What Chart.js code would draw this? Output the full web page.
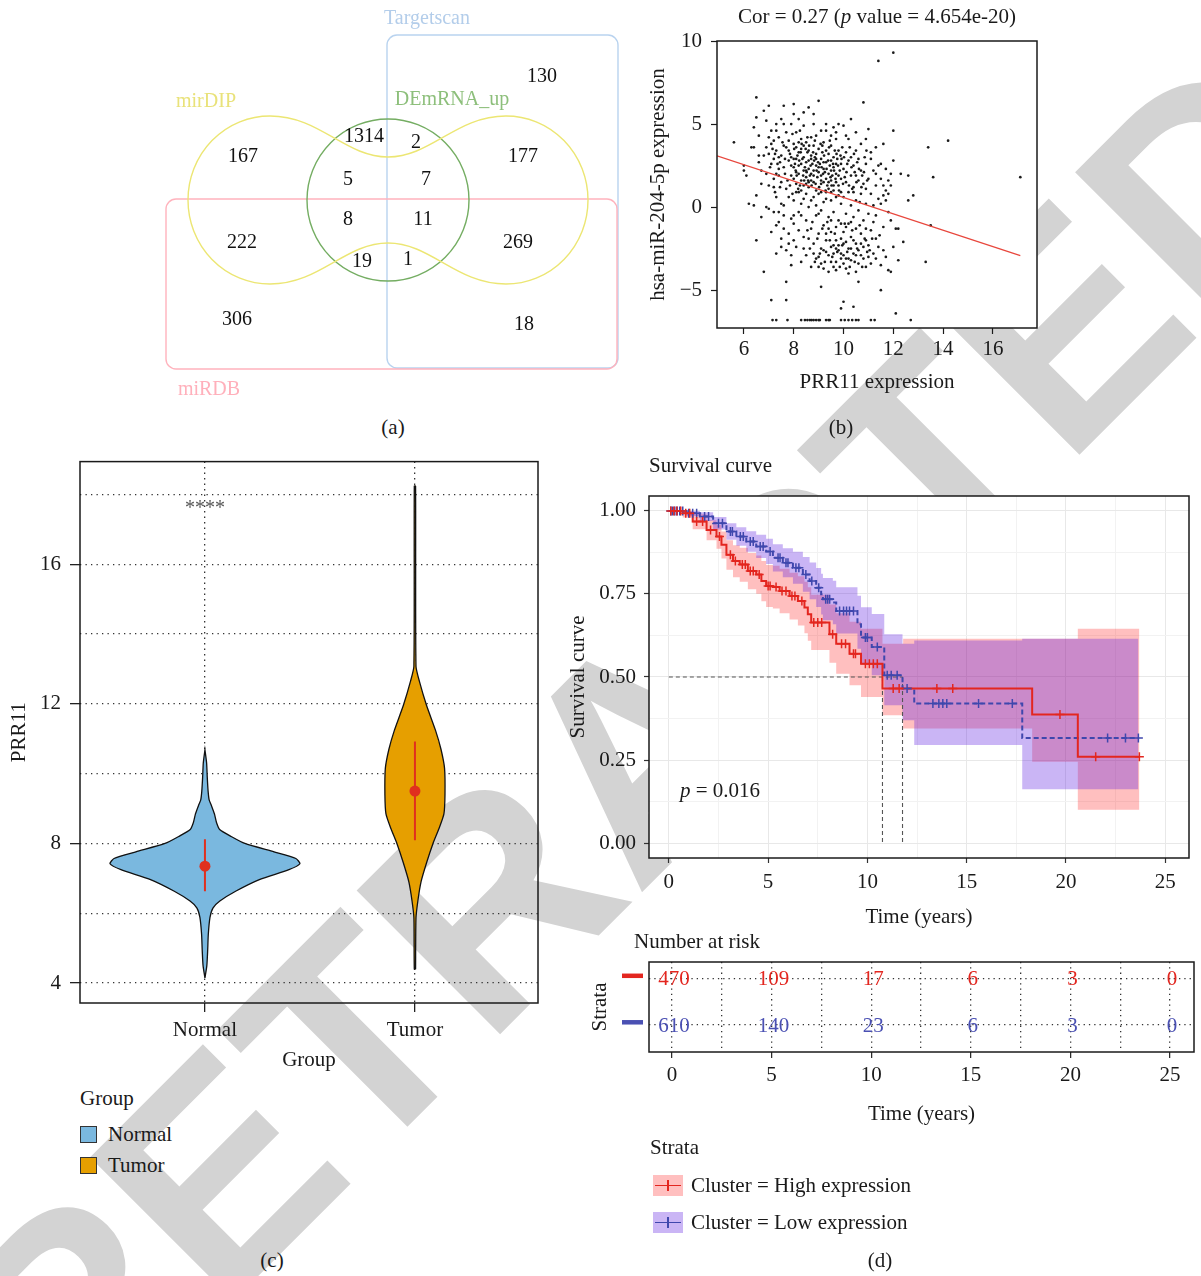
<!DOCTYPE html>
<html>
<head>
<meta charset="utf-8">
<script src="https://cdn.jsdelivr.net/npm/chart.js"></script>
<style>
  body { margin: 0; background: #fff; }
  #page { position: relative; width: 1201px; height: 1276px; overflow: hidden;
          font-family: 'Liberation Serif', 'Times New Roman', serif; color: #1a1a1a; }
  .wm { position: absolute; left: 640px; top: 750px; z-index: 0; white-space: nowrap; line-height: 1;
        transform: translate(-50%, -50%) rotate(-45deg);
        font: bold 295px 'Liberation Sans', Arial, sans-serif; color: #d3d3d3; }
  canvas { position: absolute; z-index: 1; }
  .t { position: absolute; z-index: 2; font-size: 21px; line-height: 1; white-space: nowrap; }
  .sw { position: absolute; z-index: 2; }
</style>
</head>
<body>
<div id="page"><div class="wm">RETRACTED</div></div>
<script>
// ---------- (a) venn ----------
const vennSets = ['Targetscan', 'mirDIP', 'DEmRNA_up', 'miRDB'];
const vennCounts = [130, 167, 1314, 2, 177, 5, 7, 8, 11, 222, 269, 19, 1, 306, 18];

// ---------- (b) scatter ----------
const prrMir = [
  [5.6,3.9],[6.0,2.5],[6.0,2.2],[6.1,1.9],[6.2,0.2],[6.3,3.6],[6.4,3.6],[6.4,4.8],[6.5,5.4],[6.5,6.6],
  [6.5,-2.0],[6.5,0.7],[6.4,0.1],[6.6,2.7],[6.6,4.3],[6.7,1.4],[6.7,-0.6],[6.8,5.8],[6.8,3.1],[6.8,-3.9],
  [6.9,0.0],[6.9,2.0],[6.9,5.2],[7.0,6.1],[7.0,4.2],[7.0,1.3],[7.0,-0.1],[6.7,2.2],[6.6,3.1],[6.9,3.6],
  [7.1,3.8],[7.1,2.6],[7.1,-1.5],[7.1,-5.6],[7.2,4.0],[7.2,1.2],[7.2,-0.3],[7.2,2.9],[7.3,3.4],[7.3,0.6],
  [7.3,-2.8],[7.3,4.6],[7.4,1.9],[7.4,-0.9],[7.4,3.0],[7.4,2.3],[7.5,5.3],[7.5,1.5],[7.5,-1.9],[7.5,0.2],
  [7.6,3.7],[7.6,2.4],[7.6,-1.3],[7.6,6.1],[7.7,4.5],[7.7,1.1],[7.7,-2.6],[7.7,-4.5],[7.7,-5.6],[7.8,2.8],
  [7.8,0.6],[7.8,-2.2],[7.8,3.4],[7.9,1.9],[7.9,5.0],[7.9,-0.7],[7.9,-3.5],[7.6,0.1],[7.3,2.0],[7.5,3.1],
  [7.8,4.0],[7.4,4.2],[7.2,1.7],[7.9,2.5],[7.7,3.6],
  [8.0,6.2],[8.0,2.4],[8.0,0.4],[8.0,-1.0],[8.0,3.8],[8.1,2.9],[8.1,1.4],[8.1,-2.4],[8.1,4.5],[8.2,3.3],
  [8.2,2.0],[8.2,0.9],[8.2,-0.3],[8.2,5.3],[8.3,2.6],[8.3,1.6],[8.3,-3.3],[8.3,4.1],[8.3,3.5],[8.4,2.2],
  [8.4,0.5],[8.4,-1.8],[8.4,3.0],[8.4,4.9],[8.5,1.8],[8.5,2.7],[8.5,-0.8],[8.5,3.9],[8.5,-2.9],[8.6,6.0],
  [8.6,2.3],[8.6,1.2],[8.6,0.0],[8.6,3.4],[8.7,2.0],[8.7,4.2],[8.7,-1.3],[8.7,2.9],[8.7,-3.6],[8.8,1.5],
  [8.8,3.7],[8.8,0.6],[8.8,-2.2],[8.8,5.0],[8.9,2.5],[8.9,1.0],[8.9,3.2],[8.9,-0.5],[8.9,-3.1],[8.0,1.7],
  [8.2,3.9],[8.4,1.3],[8.6,2.8],[8.8,2.2],[8.3,-0.5],[8.5,0.8],[8.7,1.6],[8.9,4.3],[8.1,2.1],[8.6,-1.9],
  [9.0,6.4],[9.0,2.1],[9.0,0.8],[9.0,-1.6],[9.0,-3.0],[9.0,3.5],[9.1,1.4],[9.1,2.9],[9.1,-0.2],[9.1,-2.5],
  [9.1,-4.8],[9.1,4.6],[9.2,2.3],[9.2,0.3],[9.2,-1.1],[9.2,3.9],[9.2,-3.7],[9.3,1.7],[9.3,2.7],[9.3,-2.0],
  [9.3,0.9],[9.3,5.0],[9.4,3.2],[9.4,1.1],[9.4,-0.6],[9.4,-2.9],[9.4,2.0],[9.5,3.7],[9.5,0.4],[9.5,-1.5],
  [9.5,-3.3],[9.5,1.6],[9.5,4.3],[9.6,2.4],[9.6,-0.3],[9.6,-2.3],[9.6,1.0],[9.6,3.0],[9.7,0.6],[9.7,-1.2],
  [9.7,-3.8],[9.7,2.0],[9.7,4.1],[9.8,1.3],[9.8,-2.6],[9.8,3.4],[9.8,-0.8],[9.8,5.0],[9.9,0.2],[9.9,2.6],
  [9.9,-1.9],[9.9,-3.1],[9.9,1.7],[9.2,1.5],[9.4,-1.3],[9.6,-3.6],[9.8,0.7],[9.0,-0.4],[9.3,-2.7],[9.5,2.8],
  [9.7,-2.0],[9.9,-1.0],[9.1,0.9],[9.6,4.8],
  [10.0,4.9],[10.0,2.3],[10.0,0.6],[10.0,-1.5],[10.0,-2.9],[10.0,-5.7],[10.1,3.3],[10.1,1.5],[10.1,-0.4],[10.1,-2.1],
  [10.1,-3.7],[10.2,2.8],[10.2,0.9],[10.2,-1.0],[10.2,-2.5],[10.2,4.1],[10.3,1.9],[10.3,0.1],[10.3,-1.8],[10.3,-3.2],
  [10.3,5.3],[10.4,2.5],[10.4,-0.6],[10.4,-2.8],[10.4,-6.0],[10.4,1.2],[10.5,3.4],[10.5,0.4],[10.5,-1.3],[10.5,-2.2],
  [10.5,-3.9],[10.6,1.6],[10.6,-0.2],[10.6,-2.6],[10.6,-4.5],[10.6,2.9],[10.7,0.8],[10.7,-1.6],[10.7,2.2],[10.7,3.8],
  [10.8,1.4],[10.8,-0.8],[10.8,-3.1],[10.8,6.3],[10.9,2.6],[10.9,0.2],[10.9,-2.0],[10.9,-3.6],[10.1,-1.2],[10.3,3.0],
  [10.5,1.9],[10.7,-2.9],[10.9,1.1],[10.0,-3.4],[10.2,-4.0],[10.4,0.9],
  [11.0,4.7],[11.0,1.7],[11.0,-0.4],[11.0,-2.3],[11.1,2.9],[11.1,0.8],[11.1,-1.4],[11.1,-3.4],[11.2,2.2],[11.2,-0.9],
  [11.2,-2.8],[11.3,1.3],[11.3,3.6],[11.3,-1.9],[11.4,8.8],[11.4,0.5],[11.4,-2.4],[11.4,2.5],[11.5,-5.0],[11.5,1.7],
  [11.5,-3.5],[11.6,0.7],[11.6,-1.2],[11.6,3.8],[11.7,1.0],[11.7,-3.0],[11.7,0.4],[11.8,-0.3],[11.8,-3.8],[11.9,1.3],
  [11.9,-3.9],[11.9,2.0],[12.0,9.3],[12.0,4.6],[12.0,2.8],[12.0,-2.4],[11.2,0.1],[11.5,2.6],[11.8,1.6],
  [12.1,-1.3],[12.1,-6.4],[12.2,-1.3],[12.2,-3.2],[12.3,2.0],[12.4,-2.1],[12.6,1.9],[12.6,0.4],[12.7,-6.8],[12.8,0.7],
  [13.3,-3.3],[13.4,3.6],[13.5,-1.1],[13.6,1.8],[14.2,4.0],[17.1,1.8],
  [7.15,-6.8],[7.3,-6.8],[7.75,-6.8],[8.3,-6.8],[8.45,-6.8],[8.55,-6.8],[8.65,-6.8],[8.72,-6.8],[8.8,-6.8],[8.9,-6.8],
  [9.0,-6.8],[9.05,-6.8],[9.3,-6.8],[9.4,-6.8],[9.45,-6.8],[9.9,-6.8],[10.05,-6.8],[10.2,-6.8],[10.35,-6.8],[10.5,-6.8],
  [10.6,-6.8],[11.1,-6.8],[11.25,-6.8],[9.9,-6.1],
  [8.05,2.6],[8.15,3.1],[8.25,1.3],[8.35,2.9],[8.45,2.4],[8.55,3.3],[8.65,1.9],[8.75,2.6],[8.85,3.0],[8.95,1.8],
  [9.05,2.6],[9.15,3.3],[9.25,2.1],[9.35,1.3],[9.45,2.5],[9.55,1.9],[9.65,3.4],[9.75,2.9],[9.85,2.2],[9.95,3.6],
  [8.1,0.9],[8.3,0.2],[8.5,1.4],[8.7,0.4],[8.9,0.1],[9.1,1.9],[9.3,0.5],[9.5,0.9],[9.7,1.5],[9.9,0.9],
  [7.85,1.3],[7.65,2.0],[7.45,2.7],[7.25,3.2],[7.95,4.4],[8.25,4.6],[8.55,4.2],[8.85,4.0],[9.15,3.7],[9.45,4.0],
  [10.05,1.8],[10.15,2.6],[10.25,3.6],[10.35,1.1],[10.45,2.1],[10.55,2.7],[10.65,0.3],[10.75,1.9],[10.85,3.0],[10.95,1.6],
  [9.8,-2.3],[10.0,-2.2],[10.2,-3.1],[10.4,-2.0],[10.6,-3.4],[9.6,-2.8],[9.4,-3.9],[9.2,-2.6],[9.0,-3.6],[8.8,-2.8],
  [10.8,-2.4],[11.0,-3.0],[9.7,-3.3],[9.5,-2.4],[10.3,-2.5],
  [7.05,2.4],[7.15,3.5],[7.25,0.9],[7.35,2.6],[7.45,1.2],[7.55,3.9],[7.65,2.9],[7.75,1.6],[7.85,3.2],[7.95,0.8],
  [8.02,3.5],[8.12,1.9],[8.22,2.8],[8.32,3.8],[8.42,1.6],[8.52,2.1],[8.62,3.7],[8.72,1.3],[8.82,2.8],[8.92,2.2],
  [9.02,1.2],[9.12,2.4],[9.22,3.1],[9.32,2.3],[9.42,3.6],[9.52,1.3],[9.62,2.2],[9.72,3.2],[9.82,1.0],[9.92,2.9],
  [10.02,3.0],[10.12,2.1],[10.22,1.3],[10.32,2.4],[10.42,3.2],[10.52,1.5],[10.62,2.3],[10.72,1.2],[10.82,2.1],[10.92,3.4],
  [8.08,2.2],[8.18,1.1],[8.28,3.3],[8.38,1.9],[8.48,3.5],[8.58,1.6],[8.68,2.5],[8.78,3.3],[8.88,1.4],[8.98,2.7],
  [9.08,3.8],[9.18,2.0],[9.28,1.0],[9.38,2.8],[9.48,1.8],[9.58,2.6],[9.68,1.7],[9.78,2.5],[9.88,3.1],[9.98,1.4],
  [7.9,3.0],[8.0,2.9],[8.1,3.6],[8.2,2.5],[8.3,1.0],[8.4,3.7],[8.5,2.2],[8.6,1.5],[8.7,3.1],[8.8,1.9],
  [8.9,2.9],[9.0,2.4],[9.1,1.6],[9.2,2.7],[9.3,3.4],[9.4,1.5],[9.5,2.2],[9.6,1.3],[9.7,2.6],[9.8,1.9],
  [8.55,-1.4],[8.65,-2.5],[8.75,-0.9],[8.85,-3.3],[8.95,-1.9],[9.05,-2.8],[9.15,-1.3],[9.25,-3.3],[9.35,-0.9],[9.45,-2.0],
  [9.55,-3.0],[9.65,-1.6],[9.75,-2.7],[9.85,-3.6],[9.95,-2.3],[10.05,-1.0],[10.15,-2.7],[10.25,-3.6],[10.35,-1.4],[10.45,-3.3],
  [10.55,-2.5],[10.65,-1.1],[10.75,-3.6],[10.85,-1.9],[10.95,-2.7],[9.1,-3.4],[9.3,-1.6],[9.5,-0.8],[9.7,-2.5],[9.9,-2.8],
  [10.1,-3.1],[10.3,-0.9],[10.5,-2.9],[10.7,-2.2],[10.9,-1.3],[11.05,-2.6],[11.15,-1.9],[11.3,-3.1],[11.45,-1.7],[11.6,-2.6],
  [7.0,3.2],[7.1,4.6],[7.3,5.0],[7.6,5.0],[8.0,5.6],[8.4,5.7],[8.8,5.6],[9.3,4.6],[9.7,4.5],[10.1,4.3],
  [10.5,4.5],[10.9,4.1],[11.3,2.0],[11.5,0.2],[11.7,2.3],[11.1,3.3],[11.3,-0.5],[11.6,1.3],[11.8,0.8],[11.9,-0.8],
  [7.4,-0.3],[7.6,-0.5],[7.8,-1.6],[8.0,-2.0],[8.2,-1.4],[8.4,-2.5],[8.0,-0.5],[7.3,-1.1],[7.5,-2.4],[7.9,-2.9]
];
const fitX = [4.92, 17.1];
const fitY = [3.09, -2.92];
const scatterXTicks = [6, 8, 10, 12, 14, 16];
const scatterYTicks = [-5, 0, 5, 10];

// ---------- (c) violin ----------
const groups = ['Normal', 'Tumor'];
const normalY = [4.15, 4.5, 4.94, 5.4, 5.88, 6.15, 6.35, 6.63, 6.97, 7.25, 7.42, 7.57, 7.76, 8.0, 8.2, 8.4, 8.6, 8.85, 9.1, 9.25, 9.5, 9.9, 10.3, 10.68];
const normalDens = [0, 0.009, 0.013, 0.016, 0.024, 0.038, 0.071, 0.146, 0.262, 0.40, 0.452, 0.433, 0.329, 0.19, 0.125, 0.07, 0.055, 0.045, 0.03, 0.02, 0.015, 0.011, 0.008, 0];
const tumorY = [4.4, 5.87, 6.36, 6.9, 7.44, 8.0, 8.42, 8.85, 9.39, 10.15, 10.7, 11.24, 11.96, 12.65, 13.08, 18.24];
const tumorDens = [0.003, 0.005, 0.014, 0.029, 0.055, 0.086, 0.114, 0.138, 0.143, 0.141, 0.124, 0.098, 0.055, 0.021, 0.005, 0.003];
const groupMedian = [7.35, 9.5];
const groupQ1 = [6.63, 8.09];
const groupQ3 = [8.12, 10.92];
const violinGrid = [4, 6, 8, 10, 12, 14, 16, 18];
const violinYTicks = [4, 8, 12, 16];

// ---------- (d) survival ----------
const highT  = [0, 0.7, 1.2, 1.9, 2.4, 2.65, 2.9, 3.23, 3.57, 3.98, 4.4, 4.66, 4.9, 5.24, 5.58, 6.08, 6.5, 6.83, 7.0, 7.17, 8.09, 8.43, 9.1, 9.68, 10.76, 11.8, 18.3, 20.6, 23.7];
const highS  = [1.0, 0.993, 0.968, 0.943, 0.923, 0.898, 0.868, 0.849, 0.839, 0.819, 0.809, 0.789, 0.774, 0.771, 0.759, 0.744, 0.729, 0.709, 0.689, 0.664, 0.629, 0.600, 0.570, 0.540, 0.465, 0.465, 0.387, 0.260, 0.260];
const highLo = [1.0, 0.980, 0.945, 0.912, 0.886, 0.857, 0.823, 0.800, 0.787, 0.764, 0.751, 0.728, 0.711, 0.706, 0.692, 0.673, 0.655, 0.632, 0.609, 0.581, 0.543, 0.510, 0.475, 0.440, 0.385, 0.345, 0.245, 0.100, 0.100];
const highHi = [1.0, 1.0, 0.990, 0.972, 0.958, 0.938, 0.912, 0.897, 0.889, 0.873, 0.866, 0.849, 0.837, 0.835, 0.826, 0.814, 0.803, 0.787, 0.770, 0.748, 0.718, 0.692, 0.666, 0.645, 0.600, 0.615, 0.615, 0.645, 0.645];
const lowT  = [0, 0.89, 1.56, 2.23, 2.9, 3.4, 3.9, 4.4, 4.9, 5.24, 5.74, 6.25, 6.75, 7.09, 7.42, 7.67, 7.76, 8.26, 8.43, 9.5, 9.68, 10.22, 10.85, 11.77, 12.36, 17.8, 23.65];
const lowS  = [1.0, 0.993, 0.983, 0.963, 0.938, 0.923, 0.908, 0.893, 0.878, 0.859, 0.844, 0.829, 0.809, 0.789, 0.769, 0.749, 0.734, 0.724, 0.699, 0.659, 0.619, 0.590, 0.505, 0.465, 0.420, 0.316, 0.316];
const lowLo = [1.0, 0.985, 0.970, 0.944, 0.913, 0.895, 0.877, 0.858, 0.840, 0.818, 0.800, 0.781, 0.757, 0.734, 0.711, 0.688, 0.671, 0.659, 0.631, 0.585, 0.540, 0.505, 0.415, 0.370, 0.295, 0.162, 0.162];
const lowHi = [1.0, 1.0, 0.996, 0.982, 0.963, 0.951, 0.939, 0.928, 0.916, 0.900, 0.888, 0.877, 0.861, 0.845, 0.828, 0.811, 0.798, 0.790, 0.770, 0.745, 0.710, 0.690, 0.629, 0.600, 0.610, 0.615, 0.615];
const highCensor = [0.1, 0.25, 0.4, 0.6, 0.85, 1.05, 1.4, 1.7, 2.1, 2.55, 3.1, 3.35, 3.7, 3.85, 4.1, 4.25, 4.55, 5.0, 5.1, 5.4, 5.7, 5.9, 6.2, 6.35, 6.7, 7.3, 7.5, 7.7, 8.25, 8.7, 8.9, 9.3, 9.4, 9.9, 10.1, 10.3, 10.5, 11.3, 11.6, 13.5, 14.3, 19.7, 21.5, 23.7];
const lowCensor = [0.1, 0.18, 0.3, 0.42, 0.55, 0.7, 1.0, 1.2, 1.4, 1.8, 2.0, 2.5, 2.7, 3.1, 3.2, 3.6, 3.75, 4.1, 4.25, 4.6, 4.75, 5.1, 5.5, 5.6, 5.9, 6.0, 6.4, 6.55, 6.9, 7.2, 7.55, 7.9, 8.0, 8.1, 8.6, 8.8, 8.95, 9.1, 9.3, 9.9, 10.0, 10.5, 11.0, 11.2, 11.5, 12.0, 13.3, 13.6, 13.8, 14.0, 15.6, 17.3, 22.1, 23.0, 23.65];
const medianSurv = [10.76, 11.77];
const survXTicks = [0, 5, 10, 15, 20, 25];
const survYTicks = [0, 0.25, 0.5, 0.75, 1];
const riskTimes = [0, 5, 10, 15, 20, 25];
const riskHigh = [470, 109, 17, 6, 3, 0];
const riskLow = [610, 140, 23, 6, 3, 0];

// ---------- setup ----------
const SERIF = "'Liberation Serif', 'Times New Roman', serif";
Chart.defaults.font.family = SERIF;
Chart.defaults.font.size = 21;
Chart.defaults.color = '#1a1a1a';
Chart.defaults.animation = false;
Chart.defaults.events = [];
Chart.defaults.plugins.legend.display = false;
Chart.defaults.plugins.tooltip.enabled = false;

const RED = '#e3261f', BLUE = '#3f47ad';
const RED_BAND = 'rgba(255,20,20,0.27)', BLUE_BAND = 'rgba(95,30,225,0.33)';
const page = document.getElementById('page');

function text(html, x, y, align, style) {
  const d = document.createElement('div');
  d.className = 't';
  d.innerHTML = html;
  d.style.left = x + 'px';
  d.style.top = y + 'px';
  d.style.transform = align === 'left' ? 'translate(0,-50%)' : 'translate(-50%,-50%)';
  if (style) d.style.cssText += style;
  page.appendChild(d);
}
function box(x, y, w, h, style) {
  const d = document.createElement('div');
  d.className = 'sw';
  d.style.cssText += `left:${x}px;top:${y}px;width:${w}px;height:${h}px;` + style;
  page.appendChild(d);
  return d;
}
function canvasAt(x, y, w, h) {
  const c = document.createElement('canvas');
  c.width = w; c.height = h;
  c.style.left = x + 'px'; c.style.top = y + 'px';
  page.appendChild(c);
  return c;
}
const ticksAt = vals => s => { s.ticks = vals.map(v => ({ value: v })); };
const has = (arr, v) => arr.some(a => Math.abs(a - v) < 1e-6);
const minus = v => (v < 0 ? '\u2212' + Math.abs(v) : '' + v);

function panel(bg, lw) {
  return {
    id: 'panel',
    beforeDraw(c) {
      if (!bg) return;
      const a = c.chartArea, ctx = c.ctx;
      ctx.save(); ctx.fillStyle = bg;
      ctx.fillRect(a.left, a.top, a.right - a.left, a.bottom - a.top);
      ctx.restore();
    },
    afterDraw(c) {
      const a = c.chartArea, ctx = c.ctx;
      ctx.save(); ctx.strokeStyle = '#1a1a1a'; ctx.lineWidth = lw;
      ctx.strokeRect(a.left, a.top, a.right - a.left, a.bottom - a.top);
      ctx.restore();
    }
  };
}

// ---------- (a) venn chart ----------
const vennPos = [[382,77],[83,157],[204,137],[256,143],[363,157],[188,180],[266,180],[188,220],[263,220],
                 [82,243],[358,243],[202,262],[248,260],[77,320],[364,325]];
const vennShapes = {
  id: 'vennShapes',
  beforeDatasetsDraw(c) {
    const { ctx } = c, X = c.scales.x, Y = c.scales.y;
    const px = v => X.getPixelForValue(v), py = v => Y.getPixelForValue(v);
    ctx.save();
    ctx.lineWidth = 1.4;
    const rr = (x0, y0, x1, y1, col) => {
      ctx.strokeStyle = col; ctx.beginPath();
      ctx.roundRect(px(x0), py(y0), px(x1) - px(x0), py(y1) - py(y0), 10); ctx.stroke();
    };
    rr(227, 35, 458, 368, '#b9d3ef');
    rr(6, 199, 457, 369, '#ffb3bd');
    // DEmRNA_up circle
    ctx.strokeStyle = '#74ad62';
    ctx.beginPath(); ctx.arc(px(228), py(200), px(309) - px(228), 0, Math.PI * 2); ctx.stroke();
    // mirDIP two-lobed shape
    ctx.strokeStyle = '#ece673';
    ctx.beginPath();
    ctx.moveTo(px(228), py(157));
    ctx.bezierCurveTo(px(185), py(157), px(160), py(116), px(110), py(116));
    ctx.ellipse(px(110), py(200), px(82) - px(0), py(84) - py(0), 0, -Math.PI / 2, Math.PI / 2, true);
    ctx.bezierCurveTo(px(160), py(284), px(185), py(243), px(228), py(243));
    ctx.bezierCurveTo(px(271), py(243), px(296), py(284), px(346), py(284));
    ctx.ellipse(px(346), py(200), px(82) - px(0), py(84) - py(0), 0, Math.PI / 2, -Math.PI / 2, true);
    ctx.bezierCurveTo(px(296), py(116), px(271), py(157), px(228), py(157));
    ctx.stroke();
    ctx.restore();
  },
  afterDatasetsDraw(c) {
    const ctx = c.ctx, meta = c.getDatasetMeta(0);
    ctx.save();
    ctx.font = '20px ' + SERIF; ctx.fillStyle = '#111';
    ctx.textAlign = 'center'; ctx.textBaseline = 'middle';
    meta.data.forEach((el, i) => ctx.fillText(vennCounts[i], el.x, el.y));
    ctx.restore();
  }
};
new Chart(canvasAt(160, 0, 470, 410), {
  type: 'scatter',
  data: { datasets: [{ data: vennPos.map(p => ({ x: p[0], y: p[1] })), pointRadius: 0 }] },
  options: {
    responsive: false, layout: { padding: 0 },
    scales: { x: { display: false, min: 0, max: 470 }, y: { display: false, min: 0, max: 410, reverse: true } }
  },
  plugins: [vennShapes]
});
text(vennSets[0], 427, 17, 'center', 'color:#b3cdea;font-size:20px;');
text(vennSets[1], 206, 100, 'center', 'color:#e9e27a;font-size:20px;');
text(vennSets[2], 452, 98, 'center', 'color:#8dbf7b;font-size:20px;');
text(vennSets[3], 209, 388, 'center', 'color:#ffb0bb;font-size:20px;');

// ---------- (b) scatter chart ----------
new Chart(canvasAt(640, 0, 420, 400), {
  type: 'scatter',
  data: {
    datasets: [
      { data: fitX.map((x, i) => ({ x, y: fitY[i] })), showLine: true, borderColor: '#e8473d',
        borderWidth: 1.3, pointRadius: 0, order: 0 },
      { data: prrMir.map(p => ({ x: p[0], y: p[1] })), pointRadius: 1.35, pointBorderWidth: 0,
        backgroundColor: '#1a1a1a', order: 1 }
    ]
  },
  options: {
    responsive: false,
    layout: { padding: { left: 0, top: 41, right: 23, bottom: 0 } },
    scales: {
      x: {
        type: 'linear', min: 4.92, max: 17.77,
        afterFit: s => { s.height = 72; }, afterBuildTicks: ticksAt(scatterXTicks),
        grid: { drawOnChartArea: false, tickLength: 6, tickColor: '#1a1a1a', tickWidth: 1.2 },
        border: { display: false },
        ticks: { padding: 3, maxRotation: 0, autoSkip: false },
        title: { display: true, text: 'PRR11 expression', padding: { top: 0, bottom: 5 } }
      },
      y: {
        min: -7.28, max: 10,
        afterFit: s => { s.width = 77; }, afterBuildTicks: ticksAt(scatterYTicks),
        grid: { drawOnChartArea: false, tickLength: 6, tickColor: '#1a1a1a', tickWidth: 1.2 },
        border: { display: false },
        ticks: { padding: 9, callback: minus },
        title: { display: true, text: 'hsa-miR-204-5p expression', padding: { top: 6, bottom: 0 } }
      }
    }
  },
  plugins: [panel('#ffffff', 1.5)]
});
text('Cor = 0.27 (<i>p</i> value = 4.654e-20)', 877, 16, 'center');

// ---------- (c) violin chart ----------
function outline(center, ys, ws) {
  const pts = [];
  for (let i = 0; i < ys.length; i++) pts.push({ x: center + ws[i], y: ys[i] });
  for (let i = ys.length - 1; i >= 0; i--) pts.push({ x: center - ws[i], y: ys[i] });
  pts.push({ x: center + ws[0], y: ys[0] });
  return pts;
}
const violinStars = {
  id: 'stars',
  afterDatasetsDraw(c) {
    const ctx = c.ctx;
    ctx.save();
    ctx.font = '20px ' + SERIF; ctx.fillStyle = '#555';
    ctx.textAlign = 'center'; ctx.textBaseline = 'middle';
    ctx.fillText('****', c.scales.x.getPixelForValue(1), c.scales.y.getPixelForValue(17.6));
    ctx.restore();
  }
};
const dotted = { color: '#333', lineWidth: 1.3 };
new Chart(canvasAt(0, 440, 560, 640), {
  type: 'scatter',
  data: {
    datasets: [
      { data: groupMedian.map((m, i) => ({ x: i + 1, y: m })), pointRadius: 5.5, backgroundColor: '#e0301e',
        pointBorderWidth: 0, order: 0 },
      { data: [{ x: 1, y: groupQ1[0] }, { x: 1, y: groupQ3[0] }], showLine: true, borderColor: '#e0301e',
        borderWidth: 2, pointRadius: 0, order: 1 },
      { data: [{ x: 2, y: groupQ1[1] }, { x: 2, y: groupQ3[1] }], showLine: true, borderColor: '#e0301e',
        borderWidth: 2, pointRadius: 0, order: 1 },
      { data: outline(1, normalY, normalDens), showLine: true, fill: 'shape', backgroundColor: '#7ab8df',
        borderColor: '#111', borderWidth: 1.3, pointRadius: 0, tension: 0.2, order: 2 },
      { data: outline(2, tumorY, tumorDens), showLine: true, fill: 'shape', backgroundColor: '#e69f00',
        borderColor: '#111', borderWidth: 1.3, pointRadius: 0, tension: 0.2, order: 3 }
    ]
  },
  options: {
    responsive: false,
    layout: { padding: { left: 0, top: 15, right: 22, bottom: 0 } },
    scales: {
      x: {
        type: 'linear', min: 0.405, max: 2.586,
        afterFit: s => { s.height = 77; }, afterBuildTicks: ticksAt([1, 2]),
        grid: { ...dotted, tickLength: 9, tickColor: '#222', tickWidth: 1.3 },
        border: { display: false, dash: [1.3, 4.2] },
        ticks: { padding: 6, callback: v => groups[v - 1] },
        title: { display: true, text: 'Group', padding: { top: 0, bottom: 7 } }
      },
      y: {
        min: 3.43, max: 18.94,
        afterFit: s => { s.width = 80; }, afterBuildTicks: ticksAt(violinGrid),
        grid: { ...dotted, tickLength: 10, tickWidth: 1.3,
                tickColor: c => (has(violinYTicks, c.tick.value) ? '#222' : 'rgba(0,0,0,0)') },
        border: { display: false, dash: [1.3, 4.2] },
        ticks: { padding: 9, callback: v => (has(violinYTicks, v) ? v : '') },
        title: { display: true, text: 'PRR11', padding: { top: 7, bottom: 0 } }
      }
    }
  },
  plugins: [panel(null, 1.5), violinStars]
});
text('Group', 80, 1098, 'left');
box(80, 1126, 17, 17, 'background:#7ab8df;border:1.5px solid #333;box-sizing:border-box;');
box(80, 1157, 17, 17, 'background:#e69f00;border:1.5px solid #333;box-sizing:border-box;');
text(groups[0], 108, 1134, 'left');
text(groups[1], 108, 1165, 'left');

// ---------- (d) survival chart ----------
function survAt(T, S, t) {
  let v = S[0];
  for (let i = 0; i < T.length; i++) if (T[i] <= t) v = S[i];
  return v;
}
const xy = (T, V) => T.map((t, i) => ({ x: t, y: V[i] }));
// Kaplan-Meier: hold the value, then drop at the next time (Chart.js 'before' mode)
const stepLine = (data, color, width, dash, order, fill, bg) => ({
  data, borderColor: color, borderWidth: width, borderDash: dash, pointRadius: 0,
  stepped: 'before', fill, backgroundColor: bg, order
});
const survDatasets = [
  { data: highCensor.map(t => ({ x: t, y: survAt(highT, highS, t) })), showLine: false, pointStyle: 'cross',
    pointRadius: 4.5, pointBorderWidth: 1.5, pointBorderColor: RED, order: 0 },
  { data: lowCensor.map(t => ({ x: t, y: survAt(lowT, lowS, t) })), showLine: false, pointStyle: 'cross',
    pointRadius: 4.5, pointBorderWidth: 1.5, pointBorderColor: BLUE, order: 1 },
  stepLine(xy(highT, highS), RED, 2, [], 2, false),
  stepLine(xy(lowT, lowS), BLUE, 2, [5, 3], 3, false),
  { data: [{ x: 0, y: 0.5 }, { x: medianSurv[1], y: 0.5 }], borderColor: '#555', borderWidth: 1.1,
    borderDash: [4, 3], pointRadius: 0, order: 4 },
  { data: [{ x: medianSurv[0], y: 0.5 }, { x: medianSurv[0], y: 0 }], borderColor: '#555', borderWidth: 1.1,
    borderDash: [4, 3], pointRadius: 0, order: 4 },
  { data: [{ x: medianSurv[1], y: 0.5 }, { x: medianSurv[1], y: 0 }], borderColor: '#555', borderWidth: 1.1,
    borderDash: [4, 3], pointRadius: 0, order: 4 },
  stepLine(xy(lowT, lowHi), 'rgba(0,0,0,0)', 1, [], 6, false),           // index 7
  stepLine(xy(lowT, lowLo), 'rgba(0,0,0,0)', 1, [], 5, 7, BLUE_BAND),
  stepLine(xy(highT, highHi), 'rgba(0,0,0,0)', 1, [], 8, false),         // index 9
  stepLine(xy(highT, highLo), 'rgba(0,0,0,0)', 1, [], 7, 9, RED_BAND)
];
const survXAll = [0, 2.5, 5, 7.5, 10, 12.5, 15, 17.5, 20, 22.5, 25];
const survYAll = [0, 0.125, 0.25, 0.375, 0.5, 0.625, 0.75, 0.875, 1];
new Chart(canvasAt(560, 440, 641, 500), {
  type: 'line',
  data: { datasets: survDatasets },
  options: {
    responsive: false,
    layout: { padding: { left: 0, top: 56, right: 12, bottom: 0 } },
    scales: {
      x: {
        type: 'linear', min: -1.0, max: 26.2,
        afterFit: s => { s.height = 82; }, afterBuildTicks: ticksAt(survXAll),
        grid: { lineWidth: 1, tickLength: 5, tickWidth: 1.2,
                color: c => (has(survXTicks, c.tick.value) ? '#e8e8e8' : '#f2f2f2'),
                tickColor: c => (has(survXTicks, c.tick.value) ? '#333' : 'rgba(0,0,0,0)') },
        border: { display: false },
        ticks: { padding: 7, maxRotation: 0, autoSkip: false, callback: v => (has(survXTicks, v) ? v : '') },
        title: { display: true, text: 'Time (years)', padding: { top: 0, bottom: 10 } }
      },
      y: {
        min: -0.045, max: 1.045,
        afterFit: s => { s.width = 89; }, afterBuildTicks: ticksAt(survYAll),
        grid: { lineWidth: 1, tickLength: 5, tickWidth: 1.2,
                color: c => (has(survYTicks, c.tick.value) ? '#e8e8e8' : '#f2f2f2'),
                tickColor: c => (has(survYTicks, c.tick.value) ? '#333' : 'rgba(0,0,0,0)') },
        border: { display: false },
        ticks: { padding: 8, autoSkip: false, callback: v => (has(survYTicks, v) ? v.toFixed(2) : '') },
        title: { display: true, text: 'Survival curve', padding: { top: 6, bottom: 0 } }
      }
    }
  },
  plugins: [panel('#ffffff', 1.5)]
});
text('Survival curve', 649, 465, 'left');
text('<i>p</i> = 0.016', 680, 790, 'left');

// ---------- (d) risk table ----------
const riskText = {
  id: 'riskText',
  afterDatasetsDraw(c) {
    const ctx = c.ctx;
    ctx.save();
    ctx.font = '21px ' + SERIF; ctx.textAlign = 'center'; ctx.textBaseline = 'middle';
    c.data.datasets.forEach((ds, di) => {
      ctx.fillStyle = ds.borderColor;
      c.getDatasetMeta(di).data.forEach((el, i) => ctx.fillText(ds.counts[i], el.x + 2, el.y + 1));
      const yy = c.scales.y.getPixelForValue(ds.data[0].y);
      ctx.fillRect(62, yy - 5, 21, 4.5);
    });
    ctx.restore();
  }
};
const riskXAll = [0, 2.5, 5, 7.5, 10, 12.5, 15, 17.5, 20, 22.5, 25];
new Chart(canvasAt(560, 935, 641, 200), {
  type: 'line',
  data: {
    datasets: [
      { data: riskTimes.map(t => ({ x: t, y: 2 })), counts: riskHigh, borderColor: RED, showLine: false, pointRadius: 0 },
      { data: riskTimes.map(t => ({ x: t, y: 1 })), counts: riskLow, borderColor: '#4a50b3', showLine: false, pointRadius: 0 }
    ]
  },
  options: {
    responsive: false,
    layout: { padding: { left: 0, top: 27, right: 7, bottom: 0 } },
    scales: {
      x: {
        type: 'linear', min: -1.15, max: 26.2,
        afterFit: s => { s.height = 83; }, afterBuildTicks: ticksAt(riskXAll),
        grid: { color: '#333', lineWidth: 1.3, tickLength: 6, tickWidth: 1.2,
                tickColor: c => (has(survXTicks, c.tick.value) ? '#222' : 'rgba(0,0,0,0)') },
        border: { display: false, dash: [1.3, 4] },
        ticks: { padding: 5, maxRotation: 0, autoSkip: false, callback: v => (has(survXTicks, v) ? v : '') },
        title: { display: true, text: 'Time (years)', padding: { top: 0, bottom: 8 } }
      },
      y: {
        min: 0.42, max: 2.356,
        afterFit: s => { s.width = 89; }, afterBuildTicks: ticksAt([1, 2]),
        grid: { color: '#333', lineWidth: 1.3, drawTicks: false },
        border: { display: false, dash: [1.3, 4] },
        ticks: { display: false },
        title: { display: true, text: 'Strata', padding: { top: 28, bottom: 0 } }
      }
    }
  },
  plugins: [panel('#ffffff', 1.5), riskText]
});
text('Number at risk', 634, 941, 'left');

// strata legend
text('Strata', 650, 1147, 'left');
[[1175, RED_BAND, RED, 'Cluster = High expression'],
 [1212, BLUE_BAND, BLUE, 'Cluster = Low expression']].forEach(([y, bg, col, lab]) => {
  const b = box(653, y, 30, 21, `background:${bg};`);
  b.innerHTML = `<div style="position:absolute;left:2px;right:2px;top:9.5px;height:1.6px;background:${col}"></div>` +
                `<div style="position:absolute;left:14.2px;top:5px;width:1.6px;height:11px;background:${col}"></div>`;
  text(lab, 691, y + 9.5, 'left');
});

// panel letters
text('(a)', 393, 427);
text('(b)', 841, 427);
text('(c)', 272, 1260);
text('(d)', 880, 1260);
</script>
</body>
</html>
